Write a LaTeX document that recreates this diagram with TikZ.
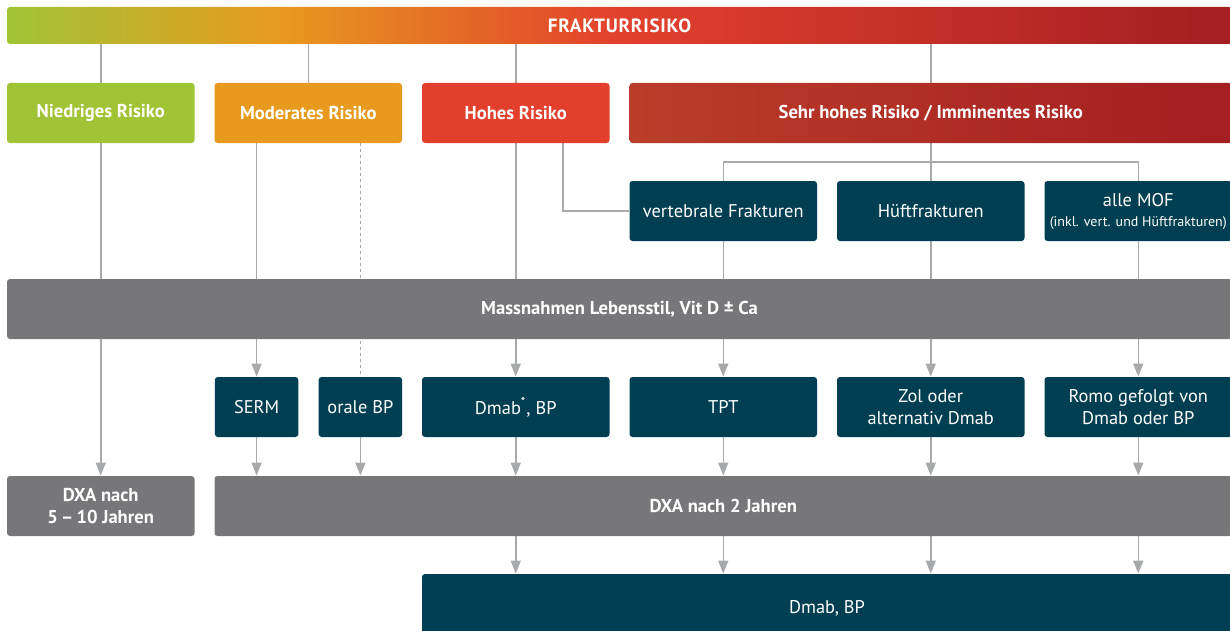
\documentclass[tikz,border=0pt]{standalone}
\usepackage{fontspec}
\setmainfont{PT Sans}
\usetikzlibrary{arrows.meta,backgrounds}
\definecolor{riskgreen}{HTML}{A0C436}
\definecolor{riskorange}{HTML}{E89A1F}
\definecolor{riskred}{HTML}{E2402D}
\definecolor{riskbrown}{HTML}{BA3D29}
\definecolor{riskdark}{HTML}{A41E22}
\definecolor{petrol}{HTML}{003F52}
\definecolor{boxgray}{HTML}{77777A}
\definecolor{linegray}{HTML}{A8A9AB}
\pgfdeclarehorizontalshading{fraktur}{100bp}{color(0bp)=(riskgreen); color(25bp)=(riskgreen); color(36bp)=(riskorange); color(50bp)=(riskred); color(75bp)=(riskdark); color(100bp)=(riskdark)}
\tikzset{
	box/.style={rectangle, rounded corners=1.5pt, inner sep=0pt, minimum width=93.75pt, minimum height=30pt, align=center, text=white, font=\fontsize{9.2}{11}\selectfont},
	riskbox/.style={box, font=\fontsize{9.3}{11}\selectfont\bfseries},
	therapy/.style={box, fill=petrol},
	greybar/.style={box, fill=boxgray, font=\fontsize{9.3}{11}\selectfont\bfseries},
	conn/.style={draw=linegray, line width=0.75pt},
	arr/.style={conn, -{Triangle[width=5pt,length=6.5pt]}},
	dashline/.style={conn, dash pattern=on 1.5pt off 1.5pt}
}
\begin{document}
\begin{tikzpicture}[x=0.5pt,y=-0.5pt]
	\useasboundingbox (0,0) rectangle (1230,631);
	\clip (0,0) rectangle (1230,631);

	\node[riskbox, shading=fraktur, minimum width=612.5pt, minimum height=18.5pt, font=\fontsize{9.6}{11}\selectfont\bfseries] (fraktur) at (619.5,25.5) {\addfontfeature{LetterSpace=4}FRAKTURRISIKO};

	\node[riskbox, fill=riskgreen] (niedrig) at (100.75,113) {Niedriges Risiko};
	\node[riskbox, fill=riskorange] (moderat) at (308.25,113) {Moderates Risiko};
	\node[riskbox, fill=riskred] (hoch) at (515.75,113) {Hohes Risiko};
	\node[riskbox, left color=riskbrown, right color=riskdark, minimum width=301.25pt] (sehrhoch) at (930.75,113) {Sehr hohes Risiko / Imminentes Risiko};

	\node[therapy] (vert) at (723.25,211) {vertebrale Frakturen};
	\node[therapy] (hueft) at (930.75,211) {Hüftfrakturen};
	\node[therapy] (mof) at (1138.25,211) {alle MOF\\[-1pt]{\fontsize{7}{8}\selectfont(inkl. vert. und Hüftfrakturen)}};

	\node[greybar, minimum width=612.5pt] (lebensstil) at (619.5,309) {Massnahmen Lebensstil, Vit D ± Ca};

	\node[therapy, minimum width=41.75pt] (serm) at (256.6,407) {SERM};
	\node[therapy, minimum width=41.75pt] (orale) at (360.4,407) {orale BP};
	\node[therapy] (dmab) at (515.75,407) {Dmab\textsuperscript{*}, BP};
	\node[therapy] (tpt) at (723.25,407) {TPT};
	\node[therapy] (zol) at (930.75,407) {Zol oder\\alternativ Dmab};
	\node[therapy] (romo) at (1138.25,407) {Romo gefolgt von\\Dmab oder BP};

	\node[greybar] (dxalow) at (100.75,506) {DXA nach\\5\,–\,10 Jahren};
	\node[greybar, minimum width=508.75pt] (dxa) at (723.25,506) {DXA nach 2 Jahren};

	\node[therapy, minimum width=405pt, minimum height=34pt] (final) at (827,608) {Dmab, BP};

	\coordinate (split) at (930.75,162);

	\begin{pgfonlayer}{background}
		\foreach \n in {niedrig,moderat,hoch,sehrhoch}
			\draw[conn] (fraktur.south -| \n.north) -- (\n.north);
		\draw[conn] (sehrhoch.south -| hueft.north) -- (hueft.north);
		\draw[conn] (vert.north) |- (split) -| (mof.north);
		\draw[conn] ([xshift=23.5pt]hoch.south) |- (vert.west);

		\draw[arr] (niedrig) -- (dxalow);
		\draw[arr] (moderat.south -| serm.north) -- (serm.north);
		\draw[dashline] (moderat.south -| orale.north) -- (orale.north);
		\draw[arr] (hoch) -- (dmab);
		\draw[arr] (vert) -- (tpt);
		\draw[arr] (hueft) -- (zol);
		\draw[arr] (mof) -- (romo);

		\foreach \n in {serm,orale,dmab,tpt,zol,romo}
			\draw[arr] (\n.south) -- (\n.south |- dxa.north);
		\foreach \n in {dmab,tpt,zol,romo}
			\draw[arr] (\n.south |- dxa.south) -- (\n.south |- final.north);
	\end{pgfonlayer}
\end{tikzpicture}
\end{document}
